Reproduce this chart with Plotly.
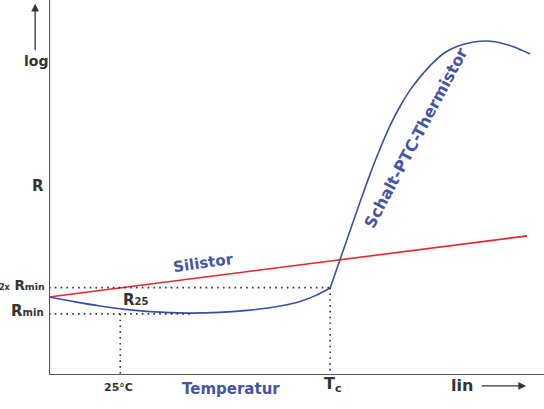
import plotly.graph_objects as go

# Schalt-PTC-Thermistor curve (temperature units 0..100, log R units 0..100)
ptc_low_x = [0, 5.3, 10.3, 15.4, 20.4, 27.9, 34.5, 40.6, 46.7, 50.7, 53.7, 56.8]
ptc_low_y = [20.8, 19.5, 18.4, 17.5, 16.9, 16.5, 16.7, 17.3, 18.4, 19.6, 21.1, 23.2]
ptc_high_x = [56.8, 58.8, 60.8, 62.8, 64.85, 66.9, 68.9, 70.9, 72.9, 75.0, 77.6, 80.0,
              82.4, 85.05, 87.1, 89.1, 91.1, 94.1, 97.2]
ptc_high_y = [23.2, 30.8, 38.4, 46.0, 53.5, 60.4, 66.5, 71.6, 75.9, 79.5, 83.3, 86.0,
              87.6, 88.6, 89.0, 89.0, 88.6, 87.4, 85.6]

# Silistor (straight line)
sil_x = [0, 96.6]
sil_y = [20.8, 37.1]

# Axes frame (L shape)
frame_x = [0, 0, 100]
frame_y = [100, 0, 0]

# Reference levels
T25 = 14.4
Tc = 56.8
R_min = 16.3
R_2min = 23.3
R_min_end = 28.5

BLUE = "#3b4ea6"
RED = "#e8262b"
TXT = "#333333"
BTXT = "#4655a3"
DOT = dict(color="#333333", width=1.6, dash="1.6px,4.2px")
FONT = "DejaVu Sans"

fig = go.Figure()
fig.add_trace(go.Scatter(x=sil_x, y=sil_y, mode="lines", line=dict(color=RED, width=1.6)))
fig.add_trace(go.Scatter(x=ptc_low_x, y=ptc_low_y, mode="lines",
                         line=dict(color=BLUE, width=1.6, shape="spline", smoothing=0.8)))
fig.add_trace(go.Scatter(x=ptc_high_x, y=ptc_high_y, mode="lines",
                         line=dict(color=BLUE, width=1.6, shape="spline", smoothing=0.8)))
# dotted guides
fig.add_trace(go.Scatter(x=[0, Tc], y=[R_2min, R_2min], mode="lines", line=DOT))
fig.add_trace(go.Scatter(x=[0, R_min_end], y=[R_min, R_min], mode="lines", line=DOT))
fig.add_trace(go.Scatter(x=[T25, T25], y=[R_min, 0], mode="lines", line=DOT))
fig.add_trace(go.Scatter(x=[Tc, Tc], y=[R_2min, 0], mode="lines", line=DOT))
fig.add_trace(go.Scatter(x=frame_x, y=frame_y, mode="lines", cliponaxis=False,
                         line=dict(color="#555555", width=2.2)))

def label(x, y, text, size=14, color=TXT, bold=True, xanchor="center", angle=0):
    fig.add_annotation(x=x / 100, y=y / 100, xref="paper", yref="paper", text=text, showarrow=False,
                       xanchor=xanchor, yanchor="middle", textangle=angle,
                       font=dict(family=FONT, size=size, color=color,
                                 weight="bold" if bold else "normal"))

label(-2.6, 83.7, "log", 14)
label(-2.2, 50.4, "R", 15)
label(-0.5, 24.0, "<span style='font-size:8px'>2x</span> R<span style='font-size:9.5px'>min</span>", 13.5, xanchor="right")
label(-0.7, 17.1, "R<span style='font-size:10px'>min</span>", 15, xanchor="right")
label(14.6, 19.9, "R<span style='font-size:10px'>25</span>", 15, xanchor="left")
label(14.1, -3.2, "25°C", 11)
label(36.8, -3.7, "Temperatur", 15, color=BTXT)
label(57.3, -2.6, "T<sub style='font-size:10px'>c</sub>", 16)
label(83.4, -2.9, "lin", 16)
label(31.3, 29.9, "Silistor", 15, color=BTXT, angle=-8)
label(74.0, 63.2, "Schalt-PTC-Thermistor", 16, color=BTXT, angle=-62)

# arrows
fig.add_annotation(x=-0.028, y=0.99, ax=0, ay=48, xref="paper", yref="paper",
                   text="", showarrow=True,
                   arrowhead=2, arrowsize=1.2, arrowwidth=1.3, arrowcolor=TXT)
fig.add_annotation(x=0.964, y=-0.029, ax=-46, ay=0, xref="paper", yref="paper",
                   text="", showarrow=True, arrowhead=2, arrowsize=1.2, arrowwidth=1.3, arrowcolor=TXT)

fig.update_xaxes(range=[0, 100], showline=False, showgrid=False, zeroline=False,
                 showticklabels=False, ticks="")
fig.update_yaxes(range=[0, 100], showline=False, showgrid=False, zeroline=False,
                 showticklabels=False, ticks="")
fig.update_layout(width=544, height=409, autosize=False, showlegend=False,
                  margin=dict(l=49, r=0, t=0, b=34),
                  paper_bgcolor="white", plot_bgcolor="white")

fig.write_html("out.html", config={"displayModeBar": False},
               post_script="document.body.style.margin='0px';")
